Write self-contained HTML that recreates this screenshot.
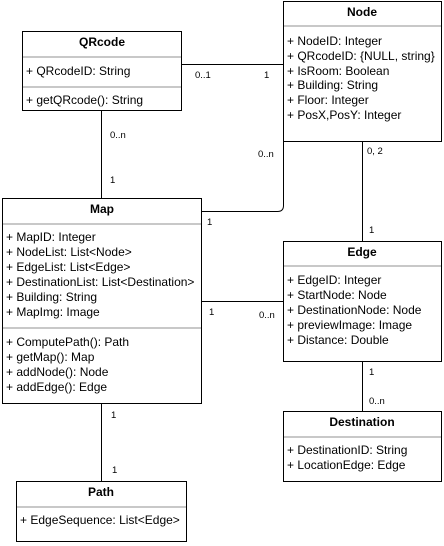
<!DOCTYPE html>
<html><head><style>
body{margin:0;background:#fff}
svg{display:block}
text{font-family:"Liberation Sans",sans-serif;font-size:12px;fill:#000}
.t{font-weight:bold;text-anchor:middle}
.s{font-size:9.5px}
</style></head><body>
<svg width="444" height="546" xmlns="http://www.w3.org/2000/svg">
<g fill="none" stroke="#000" stroke-width="1">
<path d="M181.5 64.5H283.5"/>
<path d="M101.5 110V198"/>
<path d="M283.5 141V205.5Q283.5 211.5 277.5 211.5H201"/>
<path d="M362.5 141V241"/>
<path d="M201 301.5H283"/>
<path d="M362.5 361V411"/>
<path d="M101.5 403V481"/>
<rect x="22.5" y="31.5" width="159" height="79" fill="#fff"/>
<rect x="283.5" y="1.5" width="158" height="140" fill="#fff"/>
<rect x="2.5" y="198.5" width="199" height="205" fill="#fff"/>
<rect x="283.5" y="241.5" width="158" height="120" fill="#fff"/>
<rect x="283.5" y="411.5" width="158" height="70" fill="#fff"/>
<rect x="16.5" y="481.5" width="170" height="60" fill="#fff"/>
</g>
<g stroke="#c8c8c8" stroke-width="2">
<path d="M23 57H181M23 87H181"/>
<path d="M284 26H441"/>
<path d="M3 224H201M3 328H201"/>
<path d="M284 266H441"/>
<path d="M284 437H441"/>
<path d="M17 507H186"/>
</g>
<text class="t" x="102" y="46">QRcode</text>
<text x="26" y="75">+ QRcodeID: String</text>
<text x="26" y="104">+ getQRcode(): String</text>
<text class="t" x="362" y="16">Node</text>
<text x="287" y="45">+ NodeID: Integer</text>
<text x="287" y="60">+ QRcodeID: {NULL, string}</text>
<text x="287" y="75">+ IsRoom: Boolean</text>
<text x="287" y="89">+ Building: String</text>
<text x="287" y="104">+ Floor: Integer</text>
<text x="287" y="119">+ PosX,PosY: Integer</text>
<text class="t" x="102" y="213">Map</text>
<text x="6" y="241">+ MapID: Integer</text>
<text x="6" y="256">+ NodeList: List&lt;Node&gt;</text>
<text x="6" y="271">+ EdgeList: List&lt;Edge&gt;</text>
<text x="6" y="286">+ DestinationList: List&lt;Destination&gt;</text>
<text x="6" y="301">+ Building: String</text>
<text x="6" y="316">+ MapImg: Image</text>
<text x="6" y="346">+ ComputePath(): Path</text>
<text x="6" y="361">+ getMap(): Map</text>
<text x="6" y="376">+ addNode(): Node</text>
<text x="6" y="391">+ addEdge(): Edge</text>
<text class="t" x="362" y="256">Edge</text>
<text x="287" y="284">+ EdgeID: Integer</text>
<text x="287" y="299">+ StartNode: Node</text>
<text x="287" y="314">+ DestinationNode: Node</text>
<text x="287" y="329">+ previewImage: Image</text>
<text x="287" y="344">+ Distance: Double</text>
<text class="t" x="362" y="426">Destination</text>
<text x="287" y="454">+ DestinationID: String</text>
<text x="287" y="469">+ LocationEdge: Edge</text>
<text class="t" x="101" y="496">Path</text>
<text x="20" y="524">+ EdgeSequence: List&lt;Edge&gt;</text>
<text class="s" x="195" y="78">0..1</text>
<text class="s" x="264" y="78">1</text>
<text class="s" x="110" y="138">0..n</text>
<text class="s" x="110" y="183">1</text>
<text class="s" x="258" y="157">0..n</text>
<text class="s" x="207" y="225">1</text>
<text class="s" x="367" y="154">0, 2</text>
<text class="s" x="369" y="233">1</text>
<text class="s" x="209" y="315">1</text>
<text class="s" x="259" y="318">0..n</text>
<text class="s" x="369" y="375">1</text>
<text class="s" x="369" y="404">0..n</text>
<text class="s" x="111" y="418">1</text>
<text class="s" x="112" y="473">1</text>
</svg>
</body></html>
